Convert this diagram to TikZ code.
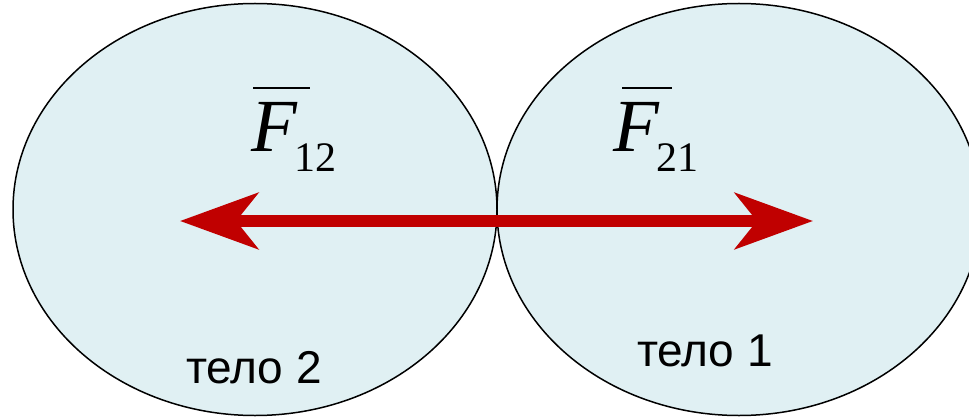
\documentclass[tikz,border=0pt]{standalone}
\usepackage{fontspec}
\setmainfont{Liberation Serif}
\newfontfamily\sansf{Liberation Sans}
\usetikzlibrary{shapes.geometric,arrows.meta}
\definecolor{bodyfill}{RGB}{224,240,243}
\definecolor{arrowred}{RGB}{192,0,0}
\tikzset{
  body/.style={ellipse, draw=black, line width=1.5pt, fill=bodyfill,
    minimum width=484pt, minimum height=412pt, inner sep=0pt},
  force/.style={line width=12pt, draw=arrowred,
    {Stealth[length=78pt,width=56pt,inset=22pt]}-{Stealth[length=78pt,width=56pt,inset=22pt]}},
  flabel/.style={anchor=base west, inner sep=0pt, font=\fontsize{75}{80}\selectfont},
  bar/.style={line width=2.5pt, black},
  bodylabel/.style={anchor=base, inner sep=0pt, font=\sansf\fontsize{46}{50}\selectfont}
}
\begin{document}
\begin{tikzpicture}[x=1pt,y=-1pt]
\useasboundingbox (0,0) rectangle (969,417);
\clip (0,0) rectangle (969,417);
\node[body] (body2) at (255,209.5) {};
\node[body] (body1) at (739,209.5) {};
\coordinate (lt) at (180,221);
\coordinate (rt) at (813,221);
\draw[force] (lt) -- (rt);
\node[flabel] (f12) at (251,152) {\itshape F\hspace{-3pt}\raisebox{-20pt}{\fontsize{42}{42}\selectfont\upshape 12}};
\draw[bar] (253,88) -- (310,88);
\node[flabel] (f21) at (613,152) {\itshape F\hspace{-3pt}\raisebox{-20pt}{\fontsize{42}{42}\selectfont\upshape 21}};
\draw[bar] (622,88) -- (672,88);
\node[bodylabel] (t2) at (254,383) {тело 2};
\node[bodylabel] (t1) at (705,366) {тело 1};
\end{tikzpicture}
\end{document}
